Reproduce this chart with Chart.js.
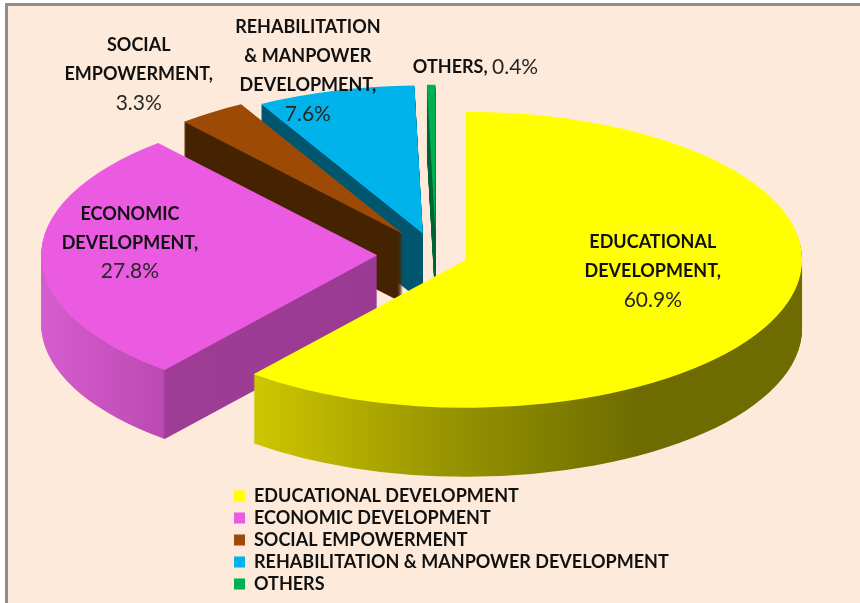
<!DOCTYPE html>
<html>
<head>
<meta charset="utf-8">
<script src="https://cdn.jsdelivr.net/npm/chart.js@4.4.1/dist/chart.umd.min.js"></script>
<style>
  html, body { margin: 0; padding: 0; background: #fff; }
  #frame { position: absolute; left: 5px; top: 3px; width: 855px; height: 600px; box-sizing: border-box;
           background: #FDEADA; border-top: 3px solid #8e8e8e; border-left: 3px solid #8e8e8e; }
  #chart { position: absolute; left: 0; top: 0; width: 860px; height: 603px; }
</style>
</head>
<body>
<div id="frame"></div>
<canvas id="chart" width="860" height="603"></canvas>
<script>
'use strict';

// data
const categories = ['EDUCATIONAL DEVELOPMENT', 'ECONOMIC DEVELOPMENT', 'SOCIAL EMPOWERMENT',
                    'REHABILITATION & MANPOWER DEVELOPMENT', 'OTHERS'];
const shares = [60.9, 27.8, 3.3, 7.6, 0.4];
const labelLines = [
  ['EDUCATIONAL', 'DEVELOPMENT,'],
  ['ECONOMIC', 'DEVELOPMENT,'],
  ['SOCIAL', 'EMPOWERMENT,'],
  ['REHABILITATION', '& MANPOWER', 'DEVELOPMENT,'],
  ['OTHERS,'],
];

// styles
const topColors = ['#FFFF00', '#EB5BE1', '#9C4A06', '#00B4EB', '#00B050'];
const sideColors = [
  { x0: 240, x1: 640, stops: [[0, '#D2CA00'], [0.5, '#999500'], [1, '#6E6C00']] },
  { x0: 40,  x1: 400, stops: [[0, '#D65DCE'], [0.34, '#BB4AB3'], [0.35, '#9E3C96'], [1, '#9A3A92']] },
  { x0: 0,   x1: 860, stops: [[0, '#462300'], [1, '#462300']] },
  { x0: 0,   x1: 860, stops: [[0, '#00566F'], [1, '#00566F']] },
  { x0: 0,   x1: 860, stops: [[0, '#007A40'], [1, '#004D26']] },
];
const PIE = { cx: 436, cy: 255, rx: 336, ry: 148, depth: 69 };
const EXPLODE = [19, 35, 34.5, 30, 30];              // along mid-angle, in chart radius units (R = 200)
const LABEL_POS = [
  { f: 0.59, dx: 0, dy: -18 },
  { f: 0.736, dx: 0, dy: -14 },
  { f: 1.38, dx: 0, dy: 8 },
  { f: 1.175, dx: -12, dy: 5 },
  { f: 1.15, dx: 45, dy: 5 },
];

function shiftOf(arc, i) {
  const sx = PIE.rx / arc.outerRadius, sy = PIE.ry / arc.outerRadius;
  const m = (arc.startAngle + arc.endAngle) / 2;
  return [sx * EXPLODE[i] * Math.cos(m), sy * EXPLODE[i] * Math.sin(m)];
}

function sideFill(ctx, i) {
  const s = sideColors[i];
  const g = ctx.createLinearGradient(s.x0, 0, s.x1, 0);
  s.stops.forEach(([p, c]) => g.addColorStop(p, c));
  return g;
}

const pie3d = {
  id: 'pie3d',
  beforeDatasetsDraw(chart) {
    const ctx = chart.ctx;
    const arcs = chart.getDatasetMeta(0).data;
    const shifts = arcs.map(shiftOf);
    const fills = arcs.map((a, i) => sideFill(ctx, i));
    ctx.save();
    for (let d = PIE.depth; d >= 1; d--) {
      arcs.forEach((a, i) => {
        const x = PIE.cx + shifts[i][0], y = PIE.cy + shifts[i][1] + d;
        ctx.beginPath();
        ctx.moveTo(x, y);
        ctx.ellipse(x, y, PIE.rx, PIE.ry, 0, a.startAngle, a.endAngle);
        ctx.closePath();
        ctx.fillStyle = fills[i];
        ctx.fill();
      });
    }
    ctx.restore();
    arcs.forEach((a, i) => {
      ctx.save();
      ctx.translate(PIE.cx + shifts[i][0], PIE.cy + shifts[i][1]);
      ctx.scale(PIE.rx / a.outerRadius, PIE.ry / a.outerRadius);
      ctx.translate(-a.x, -a.y);
      a.draw(ctx);
      ctx.restore();
    });
    return false;
  },
  afterDraw(chart) {
    const ctx = chart.ctx;
    const arcs = chart.getDatasetMeta(0).data;
    const catFont = 'bold 18px Lato', pctFont = '21px Lato', lh = 29;
    ctx.save();
    ctx.textBaseline = 'middle';
    arcs.forEach((a, i) => {
      const sh = shiftOf(a, i);
      const m = (a.startAngle + a.endAngle) / 2;
      const p = LABEL_POS[i];
      const x = PIE.cx + sh[0] + PIE.rx * p.f * Math.cos(m) + p.dx;
      const y = PIE.cy + sh[1] + PIE.ry * p.f * Math.sin(m) + p.dy;
      const pct = shares[i].toFixed(1) + '%';
      const lines = labelLines[i];
      if (lines.length === 1) {
        ctx.font = catFont;
        const w1 = ctx.measureText(lines[0] + ' ').width;
        ctx.font = pctFont;
        const w2 = ctx.measureText(pct).width;
        const x0 = x - (w1 + w2) / 2;
        ctx.textAlign = 'left';
        ctx.font = catFont; ctx.fillStyle = '#111';
        ctx.fillText(lines[0], x0, y);
        ctx.font = pctFont; ctx.fillStyle = '#262626';
        ctx.fillText(pct, x0 + w1, y);
        return;
      }
      let ty = y - lines.length * lh / 2;
      ctx.textAlign = 'center';
      lines.forEach(t => {
        ctx.font = catFont; ctx.fillStyle = '#111';
        ctx.fillText(t, x, ty);
        ty += lh;
      });
      ctx.font = pctFont; ctx.fillStyle = '#262626';
      ctx.fillText(pct, x, ty);
    });
    ctx.restore();
  }
};

Chart.defaults.font.family = 'Lato';

new Chart(document.getElementById('chart'), {
  type: 'pie',
  data: {
    labels: categories,
    datasets: [{
      data: shares,
      backgroundColor: topColors,
      borderWidth: 0,
      hoverOffset: 0,
      clip: false,
    }]
  },
  options: {
    responsive: false,
    animation: false,
    radius: 200,
    layout: { padding: { left: 230, bottom: 6 } },
    events: [],
    plugins: {
      legend: {
        position: 'chartArea',
        align: 'end',
        labels: {
          boxWidth: 11, boxHeight: 11, padding: 4, color: '#111',
          font: { family: 'Lato', size: 18, weight: 'bold' }
        }
      },
      tooltip: { enabled: false }
    }
  },
  plugins: [pie3d]
});
</script>
</body>
</html>
